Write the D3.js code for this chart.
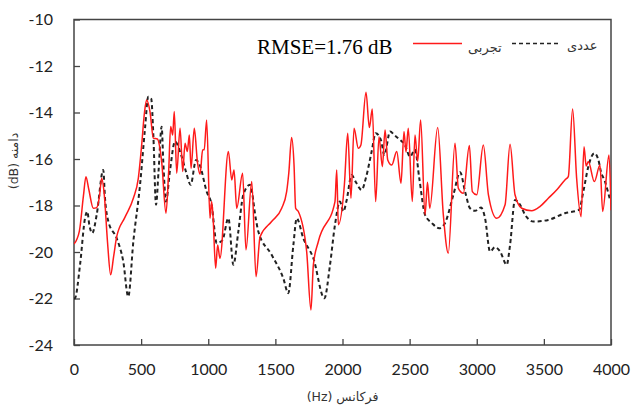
<!DOCTYPE html>
<html>
<head>
<meta charset="utf-8">
<script src="https://cdn.jsdelivr.net/npm/d3@7"></script>
<style>
    html, body { margin: 0; padding: 0; background: #fff; overflow: hidden; }
    svg { display: block; }
</style>
</head>
<body>
<svg id="chart"></svg>
<script>
// experimental (red) curve
const expFreq = [0, 40, 70, 89, 110, 144, 169, 190, 206, 225, 250, 273, 295, 318, 380, 442, 479, 504, 525, 541, 566, 591, 621, 653, 685, 705, 720, 735, 747, 765, 790, 810, 827, 844, 859, 872, 896, 919, 939, 958, 970, 988, 1013, 1025, 1035, 1055, 1070, 1087, 1150, 1175, 1192, 1212, 1256, 1281, 1324, 1356, 1386, 1472, 1547, 1584, 1600, 1621, 1639, 1651, 1671, 1733, 1765, 1783, 1820, 1944, 1957, 1969, 2014, 2039, 2063, 2086, 2118, 2137, 2175, 2200, 2222, 2247, 2272, 2297, 2317, 2337, 2367, 2404, 2436, 2458, 2473, 2490, 2520, 2540, 2560, 2582, 2615, 2633, 2650, 2709, 2751, 2788, 2838, 2863, 2900, 2945, 2967, 3000, 3049, 3087, 3149, 3211, 3248, 3285, 3335, 3409, 3470, 3533, 3600, 3657, 3682, 3714, 3744, 3777, 3799, 3815, 3831, 3876, 3918, 3938, 3985, 4000];
const expAmp = [-19.66, -19.1, -17.6, -16.76, -17.3, -18.12, -18.09, -17.6, -16.83, -17.5, -19.6, -20.98, -20.2, -19.34, -18.5, -17.69, -16.83, -15.4, -14.0, -13.46, -13.96, -15.1, -15.14, -16.11, -18.33, -16.54, -14.6, -14.97, -13.96, -16.61, -14.68, -16.54, -15.32, -15.68, -14.97, -16.4, -14.68, -16.11, -16.66, -15.61, -15.6, -14.32, -18.55, -17.83, -18.4, -20.7, -19.7, -20.27, -15.68, -16.9, -16.47, -18.12, -16.61, -19.91, -16.97, -21.06, -19.34, -18.69, -18.12, -17.4, -16.6, -15.08, -16.26, -18.12, -18.26, -19.98, -22.49, -20.55, -19.55, -17.83, -16.47, -18.83, -17.11, -14.89, -17.69, -14.68, -15.54, -15.4, -13.13, -14.65, -13.85, -17.83, -15.04, -16.33, -14.75, -16.04, -16.26, -15.68, -17.04, -14.82, -15.7, -14.68, -17.83, -14.97, -16.1, -14.32, -18.4, -17.0, -18.12, -14.65, -18.4, -20.05, -15.32, -17.26, -17.47, -15.42, -17.4, -17.54, -15.4, -17.54, -18.55, -17.97, -15.37, -17.54, -18.12, -18.23, -18.05, -17.69, -17.3, -16.9, -16.76, -13.85, -16.83, -18.48, -15.47, -16.3, -16.11, -16.97, -16.26, -18.26, -15.83, -18.2];

// numerical (black dashed) curve
const numFreq = [0, 7, 45, 82, 99, 114, 136, 169, 218, 231, 256, 318, 367, 404, 442, 492, 529, 553, 575, 591, 611, 630, 653, 665, 685, 715, 752, 802, 834, 869, 909, 939, 988, 1025, 1063, 1105, 1150, 1187, 1224, 1261, 1311, 1355, 1373, 1472, 1559, 1596, 1634, 1659, 1708, 1783, 1865, 1907, 1944, 1981, 2006, 2030, 2068, 2100, 2143, 2175, 2217, 2247, 2287, 2312, 2354, 2392, 2429, 2465, 2503, 2540, 2572, 2615, 2665, 2720, 2763, 2826, 2876, 2913, 2950, 2987, 3032, 3062, 3099, 3136, 3174, 3223, 3248, 3285, 3323, 3360, 3422, 3533, 3657, 3762, 3794, 3831, 3876, 3906, 3925, 3955, 3993];
const numAmp = [-22.0, -21.99, -20.55, -18.55, -18.26, -18.83, -19.19, -18.4, -16.47, -17.69, -18.69, -19.41, -20.41, -21.92, -19.55, -17.11, -14.68, -13.32, -13.4, -14.97, -17.97, -16.5, -14.61, -16.11, -17.83, -16.5, -15.25, -15.9, -16.54, -17.11, -16.04, -16.3, -17.4, -17.97, -19.62, -19.5, -18.55, -20.55, -19.12, -17.54, -17.11, -18.6, -19.12, -20.12, -21.13, -21.77, -19.7, -18.55, -19.41, -20.27, -21.99, -20.55, -18.83, -17.83, -18.26, -17.8, -16.69, -17.0, -17.33, -16.8, -15.68, -14.89, -15.2, -15.83, -14.82, -15.0, -15.18, -15.4, -15.9, -15.6, -16.83, -18.4, -18.75, -18.98, -18.76, -17.54, -16.57, -17.4, -18.12, -18.23, -18.09, -18.55, -19.98, -19.79, -19.98, -20.55, -19.7, -17.76, -17.97, -18.4, -18.69, -18.62, -18.33, -18.19, -17.4, -16.33, -15.75, -16.04, -16.54, -16.97, -17.76];

const xTicks = [0, 500, 1000, 1500, 2000, 2500, 3000, 3500, 4000];
const yTicks = [-24, -22, -20, -18, -16, -14, -12, -10];

const width = 632, height = 409;
const margin = {top: 19.5, right: 21, bottom: 64, left: 74};
const innerWidth = width - margin.left - margin.right;
const innerHeight = height - margin.top - margin.bottom;

const svg = d3.select('#chart')
    .attr('width', width)
    .attr('height', height);

const xScale = d3.scaleLinear().domain([0, 4000]).range([0, innerWidth]);
const yScale = d3.scaleLinear().domain([-24, -10]).range([innerHeight, 0]);

const chartGroup = svg.append('g')
    .attr('transform', `translate(${margin.left}, ${margin.top})`);

chartGroup.append('clipPath')
    .attr('id', 'plot-clip')
    .append('rect')
    .attr('width', innerWidth)
    .attr('height', innerHeight);

// axes with inward ticks
const xAxis = chartGroup.append('g')
    .attr('transform', `translate(0, ${innerHeight})`)
    .call(d3.axisBottom(xScale).tickValues(xTicks).tickFormat(d3.format('d'))
        .tickSizeInner(-6).tickSizeOuter(0).tickPadding(19));

const yAxis = chartGroup.append('g')
    .call(d3.axisLeft(yScale).tickValues(yTicks).tickFormat(d => String(d))
        .tickSizeInner(-6).tickSizeOuter(0).tickPadding(21));

[xAxis, yAxis].forEach(a => {
    a.attr('font-family', 'Lato, "Open Sans", sans-serif')
        .attr('font-size', 16);
    a.select('.domain').remove();
    a.selectAll('.tick line').attr('stroke', '#444').attr('stroke-width', 1.3);
    a.selectAll('.tick text').attr('fill', '#222');
});

// frame
chartGroup.append('rect')
    .attr('width', innerWidth)
    .attr('height', innerHeight)
    .attr('fill', 'none')
    .attr('stroke', '#444')
    .attr('stroke-width', 1.5);

const line = (freq, amp) => d3.line()
    .x((d, i) => xScale(freq[i]))
    .y((d, i) => yScale(amp[i]))
    .curve(d3.curveMonotoneX)(freq);

// numerical, dashed
chartGroup.append('path')
    .attr('clip-path', 'url(#plot-clip)')
    .attr('d', line(numFreq, numAmp))
    .attr('fill', 'none')
    .attr('stroke', '#222')
    .attr('stroke-width', 2)
    .attr('stroke-dasharray', '4,3');

// experimental, red
chartGroup.append('path')
    .attr('clip-path', 'url(#plot-clip)')
    .attr('d', line(expFreq, expAmp))
    .attr('fill', 'none')
    .attr('stroke', '#ff1a1a')
    .attr('stroke-width', 1.5);

// legend
svg.append('text')
    .attr('x', 257)
    .attr('y', 54)
    .attr('font-family', '"Liberation Serif", "Times New Roman", serif')
    .attr('font-size', 21)
    .attr('fill', '#000')
    .text('RMSE=1.76 dB');

svg.append('line')
    .attr('x1', 413).attr('x2', 462)
    .attr('y1', 43.5).attr('y2', 43.5)
    .attr('stroke', '#ff1a1a')
    .attr('stroke-width', 1.5);

svg.append('text')
    .attr('x', 468)
    .attr('y', 52)
    .attr('font-family', '"DejaVu Sans", sans-serif')
    .attr('font-size', 13)
    .attr('fill', '#333')
    .text('تجربی');

svg.append('line')
    .attr('x1', 512).attr('x2', 558)
    .attr('y1', 43.5).attr('y2', 43.5)
    .attr('stroke', '#222')
    .attr('stroke-width', 1.5)
    .attr('stroke-dasharray', '4,3');

svg.append('text')
    .attr('x', 567)
    .attr('y', 50)
    .attr('font-family', '"DejaVu Sans", sans-serif')
    .attr('font-size', 13)
    .attr('fill', '#333')
    .text('عددی');

// axis titles (written in display order, LTR base)
svg.append('text')
    .attr('x', margin.left + innerWidth / 2)
    .attr('y', 401)
    .attr('text-anchor', 'middle')
    .attr('font-family', '"DejaVu Sans", sans-serif')
    .attr('font-size', 12.5)
    .attr('fill', '#333')
    .text('(Hz) فرکانس');

svg.append('text')
    .attr('transform', 'translate(18, 161) rotate(-90)')
    .attr('text-anchor', 'middle')
    .attr('font-family', '"DejaVu Sans", sans-serif')
    .attr('font-size', 12.5)
    .attr('fill', '#333')
    .text('(dB) دامنه');
</script>
</body>
</html>
